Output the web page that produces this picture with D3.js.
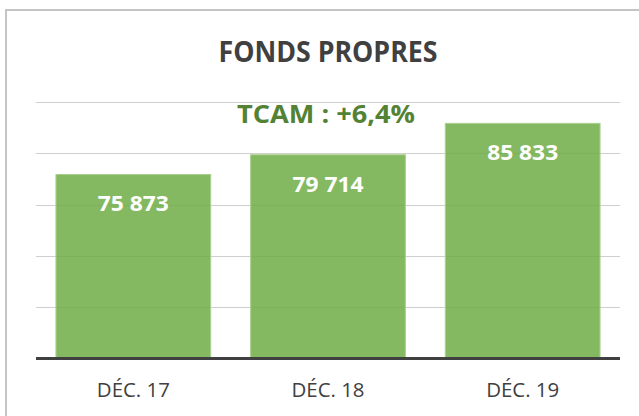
<!DOCTYPE html>
<html>
<head>
  <meta charset="utf-8">
  <style>
    body { margin: 0; background: #fff; }
    svg { display: block; font-family: "Open Sans", sans-serif; }
  </style>
</head>
<body>
  <svg id="chart" width="639" height="416"></svg>

  <script src="https://cdn.jsdelivr.net/npm/d3@7/dist/d3.min.js"></script>
  <script>
    var categories = ['DÉC. 17', 'DÉC. 18', 'DÉC. 19'];
    var values = [75873, 79714, 85833];
    var valueLabels = ['75 873', '79 714', '85 833'];
    var gridTicks = [40000, 50000, 60000, 70000, 80000, 90000];

    var svg = d3.select('#chart');

    // outer frame (only top and left edges are visible in the crop)
    svg.append('rect')
      .attr('x', 6).attr('y', 10)
      .attr('width', 700).attr('height', 500)
      .attr('fill', 'none')
      .attr('stroke', '#c4c4c4')
      .attr('stroke-width', 2);

    var x = d3.scaleBand()
      .domain(categories)
      .range([36, 620])
      .paddingInner(0.205)
      .paddingOuter(0.1025);

    var y = d3.scaleLinear()
      .domain([40000, 90000])
      .range([358.5, 102]);

    // gridlines
    svg.append('g')
      .selectAll('line')
      .data(gridTicks.slice(1))
      .enter()
      .append('line')
      .attr('x1', 36).attr('x2', 620)
      .attr('y1', d => Math.round(y(d)) + 0.5)
      .attr('y2', d => Math.round(y(d)) + 0.5)
      .attr('stroke', '#cfcfcf')
      .attr('stroke-width', 1.2);

    // bars
    svg.append('g')
      .selectAll('rect')
      .data(values)
      .enter()
      .append('rect')
      .attr('x', (d, i) => x(categories[i]))
      .attr('y', d => y(d))
      .attr('width', x.bandwidth())
      .attr('height', d => y(40000) - y(d))
      .attr('fill', '#70ad47')
      .attr('fill-opacity', 0.86)
      .attr('stroke', '#a9d08e')
      .attr('stroke-width', 1);

    // value labels
    svg.append('g')
      .selectAll('text')
      .data(values)
      .enter()
      .append('text')
      .attr('x', (d, i) => x(categories[i]) + x.bandwidth() / 2)
      .attr('y', d => y(d) + 37)
      .attr('text-anchor', 'middle')
      .attr('fill', '#fff')
      .style('font-weight', 'bold')
      .style('font-size', '21px')
      .attr('textLength', 71)
      .attr('lengthAdjust', 'spacingAndGlyphs')
      .text((d, i) => valueLabels[i]);

    // baseline axis
    var xAxis = svg.append('g')
      .attr('transform', 'translate(0,' + y(40000) + ')')
      .call(d3.axisBottom(x).tickSize(0).tickPadding(0));
    xAxis.select('.domain')
      .attr('stroke', '#404040')
      .attr('stroke-width', 3)
      .attr('d', 'M36,0H620');
    xAxis.selectAll('text')
      .attr('y', 38)
      .attr('dy', 0)
      .attr('fill', '#404040')
      .style('font-family', '"Open Sans", sans-serif')
      .style('font-size', '20px')
      .attr('textLength', 73)
      .attr('lengthAdjust', 'spacingAndGlyphs');

    // title
    svg.append('text')
      .attr('x', 328).attr('y', 62)
      .attr('text-anchor', 'middle')
      .attr('fill', '#404040')
      .style('font-weight', 'bold')
      .style('font-size', '28px')
      .attr('textLength', 219)
      .attr('lengthAdjust', 'spacingAndGlyphs')
      .text('FONDS PROPRES');

    // growth annotation
    svg.append('text')
      .attr('x', 326).attr('y', 123)
      .attr('text-anchor', 'middle')
      .attr('fill', '#548235')
      .style('font-weight', 'bold')
      .style('font-size', '25px')
      .attr('textLength', 178)
      .attr('lengthAdjust', 'spacingAndGlyphs')
      .text('TCAM : +6,4%');
  </script>
</body>
</html>
